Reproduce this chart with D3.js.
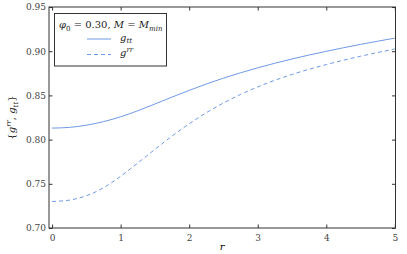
<!DOCTYPE html>
<html>
<head>
<meta charset="utf-8">
<script src="https://cdn.jsdelivr.net/npm/d3@7"></script>
<style>
  body { margin: 0; background: #fff; }
</style>
</head>
<body>
<svg id="chart"></svg>
<script>
const rValues = [0, 0.25, 0.5, 0.75, 1, 1.25, 1.5, 1.75, 2, 2.25, 2.5, 2.75, 3, 3.25, 3.5, 3.75, 4, 4.25, 4.5, 4.75, 5];
const gtt = [0.813, 0.8138, 0.8163, 0.8203, 0.8258, 0.8326, 0.8403, 0.8481, 0.8557, 0.8629, 0.8695, 0.8756, 0.8812, 0.8864, 0.8912, 0.8957, 0.8999, 0.9039, 0.9077, 0.9113, 0.9148];
const grr = [0.730, 0.7315, 0.7365, 0.7455, 0.7585, 0.7735, 0.789, 0.804, 0.8178, 0.8304, 0.8414, 0.8511, 0.8596, 0.8671, 0.8737, 0.8796, 0.8849, 0.8898, 0.8943, 0.8985, 0.9025];
const xTicks = [0, 1, 2, 3, 4, 5];
const yTicks = [0.70, 0.75, 0.80, 0.85, 0.90, 0.95];

const width = 407, height = 254;
const plotL = 49, plotR = 395.5, plotT = 7, plotB = 228;
const lineColor = "#6f9ae8";
const axisColor = "#333";
const serif = "'DejaVu Serif', serif";

const svg = d3.select("#chart").attr("width", width).attr("height", height);

const x = d3.scaleLinear().domain([-0.045, 5.01]).range([plotL, plotR]);
const y = d3.scaleLinear().domain([0.70, 0.95]).range([plotB, plotT]);

function series(vals) {
  return rValues.map((r, i) => ({ r: r, v: vals[i] }));
}

const line = d3.line()
  .x(d => x(d.r))
  .y(d => y(d.v))
  .curve(d3.curveNatural);

svg.append("path")
  .datum(series(gtt))
  .attr("d", line)
  .attr("fill", "none")
  .attr("stroke", lineColor)
  .attr("stroke-width", 1);

svg.append("path")
  .datum(series(grr))
  .attr("d", line)
  .attr("fill", "none")
  .attr("stroke", lineColor)
  .attr("stroke-width", 1)
  .attr("stroke-dasharray", "4,3");

// frame
svg.append("rect")
  .attr("x", plotL).attr("y", plotT)
  .attr("width", plotR - plotL).attr("height", plotB - plotT)
  .attr("fill", "none")
  .attr("stroke", axisColor)
  .attr("stroke-width", 1);

// axes, ticks pointing in on all four sides
const tick = 3.5;
const xb = svg.append("g").attr("transform", `translate(0,${plotB})`)
  .call(d3.axisBottom(x).tickValues(xTicks).tickSizeInner(-tick).tickSizeOuter(0).tickPadding(7).tickFormat(d3.format("d")));
const xt = svg.append("g").attr("transform", `translate(0,${plotT})`)
  .call(d3.axisTop(x).tickValues(xTicks).tickSizeInner(-tick).tickSizeOuter(0).tickFormat(""));
const yl = svg.append("g").attr("transform", `translate(${plotL},0)`)
  .call(d3.axisLeft(y).tickValues(yTicks).tickSizeInner(-tick).tickSizeOuter(0).tickPadding(3).tickFormat(d3.format(".2f")));
const yr = svg.append("g").attr("transform", `translate(${plotR},0)`)
  .call(d3.axisRight(y).tickValues(yTicks).tickSizeInner(-tick).tickSizeOuter(0).tickFormat(""));

[xb, xt, yl, yr].forEach(g => {
  g.attr("font-family", serif).attr("font-size", 9);
  g.select(".domain").remove();
  g.selectAll(".tick line").attr("stroke", axisColor);
  g.selectAll(".tick text").attr("fill", "#444");
});

// axis titles
svg.append("text")
  .attr("x", (plotL + plotR) / 2)
  .attr("y", 250)
  .attr("text-anchor", "middle")
  .attr("font-family", serif)
  .attr("font-size", 10)
  .attr("font-style", "italic")
  .text("r");

const ylab = svg.append("text")
  .attr("transform", `translate(15,${(plotT + plotB) / 2}) rotate(-90)`)
  .attr("text-anchor", "middle")
  .attr("font-family", serif)
  .attr("font-size", 10)
  .attr("fill", "#222");
ylab.append("tspan").text("{");
ylab.append("tspan").attr("font-style", "italic").text("g");
ylab.append("tspan").attr("dy", -4).attr("font-size", 7).attr("font-style", "italic").text("rr");
ylab.append("tspan").attr("dy", 4).text(", ");
ylab.append("tspan").attr("font-style", "italic").text("g");
ylab.append("tspan").attr("dy", 2.5).attr("font-size", 7).attr("font-style", "italic").text("tt");
ylab.append("tspan").attr("dy", -2.5).text("}");

// legend
const lg = svg.append("g").attr("font-family", serif).attr("fill", "#222");
lg.append("rect")
  .attr("x", 54.5).attr("y", 13.5)
  .attr("width", 112).attr("height", 52.5)
  .attr("fill", "#fff")
  .attr("stroke", axisColor)
  .attr("stroke-width", 1);

const title = lg.append("text")
  .attr("x", 59).attr("y", 28)
  .attr("font-size", 10);
title.append("tspan").attr("font-style", "italic").text("φ");
title.append("tspan").attr("dy", 2.5).attr("font-size", 7).text("0");
title.append("tspan").attr("dy", -2.5).text(" = 0.30, ");
title.append("tspan").attr("font-style", "italic").text("M");
title.append("tspan").text(" = ");
title.append("tspan").attr("font-style", "italic").text("M");
title.append("tspan").attr("dy", 2.5).attr("font-size", 7).attr("font-style", "italic").text("min");

const entries = [
  { y: 39, dash: null, base: "g", sub: "tt", sup: false },
  { y: 54.5, dash: "4,3", base: "g", sub: "rr", sup: true }
];
entries.forEach(e => {
  lg.append("line")
    .attr("x1", 87).attr("x2", 111)
    .attr("y1", e.y).attr("y2", e.y)
    .attr("stroke", lineColor)
    .attr("stroke-width", 1)
    .attr("stroke-dasharray", e.dash);
  const t = lg.append("text")
    .attr("x", 120).attr("y", e.y + 1.5)
    .attr("font-size", 10)
    .attr("font-style", "italic");
  t.append("tspan").text(e.base);
  t.append("tspan").attr("dy", e.sup ? -4.5 : 2.5).attr("font-size", 7).text(e.sub);
});
</script>
</body>
</html>
